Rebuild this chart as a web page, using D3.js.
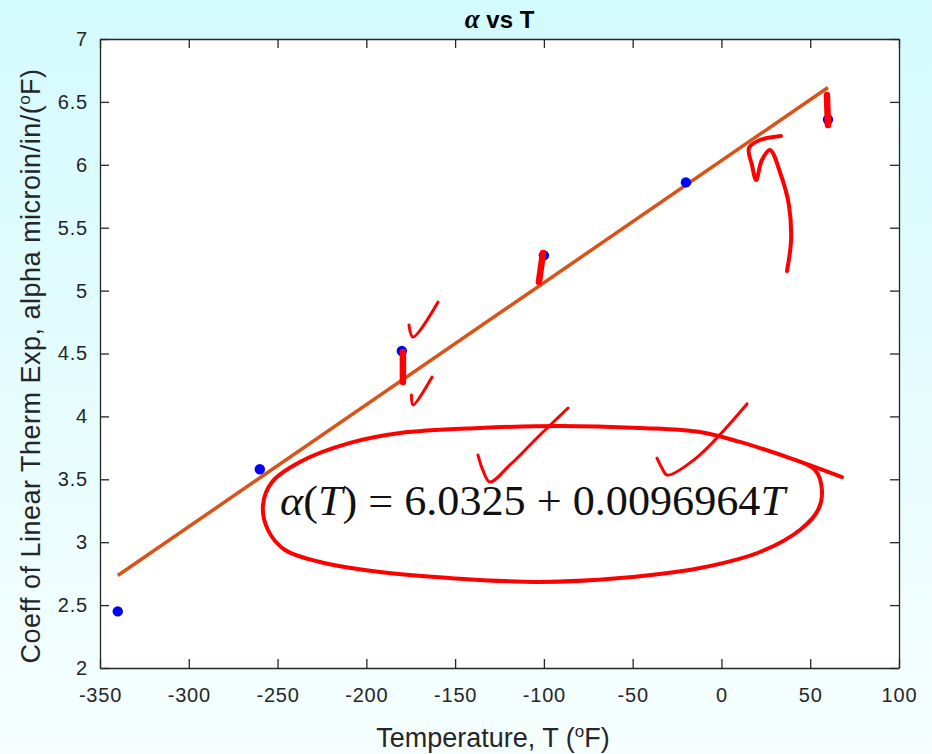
<!DOCTYPE html>
<html>
<head>
<meta charset="utf-8">
<script src="https://cdn.jsdelivr.net/npm/d3@7"></script>
<style>
  html, body { margin: 0; padding: 0; }
  svg { display: block; }
</style>
</head>
<body>
<div id="content"></div>
<script>
// measured points
const temps = [-340, -260, -180, -100, -20, 60];
const alphas = [2.45, 3.58, 4.52, 5.28, 5.86, 6.36];

// linear fit
const fitIntercept = 6.0325;
const fitSlope = 0.0096964;
const fitRange = [-340, 60];

const xTicks = [-350, -300, -250, -200, -150, -100, -50, 0, 50, 100];
const yTicks = [2, 2.5, 3, 3.5, 4, 4.5, 5, 5.5, 6, 6.5, 7];

// hand drawn ink, in data units [T, alpha]
const inkLoop = [[40.3, 3.661], [52.7, 3.574], [56.6, 3.415], [54.4, 3.256], [44.2, 3.097],
  [21.7, 2.922], [-12.1, 2.795], [-57.1, 2.715], [-102.2, 2.684], [-152.9, 2.715],
  [-192.3, 2.763], [-226.1, 2.843], [-245.8, 2.938], [-255.4, 3.097], [-258.2, 3.296],
  [-253.1, 3.479], [-237.4, 3.638], [-209.2, 3.789], [-181.0, 3.868], [-136.0, 3.908],
  [-90.9, 3.924], [-45.9, 3.908], [-12.1, 3.876], [10.4, 3.797], [38.6, 3.669], [67.9, 3.518]];
const inkArrow = [[36.9, 5.156], [39.2, 5.402], [38.0, 5.680], [33.5, 5.919], [27.3, 6.118],
  [22.8, 6.038], [19.5, 5.879], [17.2, 5.998], [15.5, 6.134], [21.7, 6.197], [33.5, 6.229]];
const inkChecks = [
  [[-176.0, 4.727], [-173.7, 4.631], [-159.6, 4.909]],
  [[-174.6, 4.170], [-173.7, 4.091], [-163.0, 4.313]],
  [[-137.1, 3.693], [-134.3, 3.570], [-130.4, 3.479], [-119.1, 3.614], [-102.2, 3.852], [-86.4, 4.067]],
  [[-36.3, 3.669], [-33.5, 3.590], [-30.7, 3.534], [-15.0, 3.660], [14.4, 4.099]]
];
const inkMarks = [
  [[-179.4, 4.512], [-179.4, 4.273]],
  [[-100.5, 5.299], [-102.8, 5.068]],
  [[59.4, 6.555], [60.0, 6.316]]
];

const W = 932, H = 754;
const margin = { top: 39, right: 33, bottom: 86, left: 100 };

const svg = d3.select("#content").append("svg")
  .attr("width", W).attr("height", H);

const grad = svg.append("defs").append("linearGradient")
  .attr("id", "bg").attr("x1", 0).attr("y1", 0).attr("x2", 0).attr("y2", 1);
grad.append("stop").attr("offset", "0%").attr("stop-color", "#d3fafd");
grad.append("stop").attr("offset", "100%").attr("stop-color", "#f6fefe");
svg.append("rect").attr("width", W).attr("height", H).attr("fill", "url(#bg)");

let x = d3.scaleLinear().domain([-350, 100]).range([margin.left, W - margin.right]);
let y = d3.scaleLinear().domain([2, 7]).range([H - margin.bottom, margin.top]);

svg.append("rect")
  .attr("x", x(-350)).attr("y", y(7))
  .attr("width", x(100) - x(-350)).attr("height", y(2) - y(7))
  .attr("fill", "#fff");

const axisColor = "#262626";
const tickFont = "20px 'Liberation Sans', Arial, sans-serif";

function styleAxis(g, showText) {
  g.select(".domain").attr("stroke", axisColor).attr("stroke-width", 1.3);
  g.selectAll(".tick line").attr("stroke", axisColor).attr("stroke-width", 1.3);
  g.selectAll(".tick text").attr("fill", axisColor).style("font", tickFont)
    .style("letter-spacing", "0.8px");
  if (!showText) g.selectAll(".tick text").remove();
}

svg.append("g")
  .attr("transform", "translate(0," + y(2) + ")")
  .call(d3.axisBottom(x).tickValues(xTicks).tickSizeInner(-9).tickSizeOuter(0).tickPadding(20).tickFormat(d => String(d)))
  .call(g => styleAxis(g, true));
svg.append("g")
  .attr("transform", "translate(0," + y(7) + ")")
  .call(d3.axisTop(x).tickValues(xTicks).tickSizeInner(-9).tickSizeOuter(0))
  .call(g => styleAxis(g, false));
svg.append("g")
  .attr("transform", "translate(" + x(-350) + ",0)")
  .call(d3.axisLeft(y).tickValues(yTicks).tickSizeInner(-9).tickSizeOuter(0).tickPadding(12).tickFormat(d => String(d)))
  .call(g => styleAxis(g, true));
svg.append("g")
  .attr("transform", "translate(" + x(100) + ",0)")
  .call(d3.axisRight(y).tickValues(yTicks).tickSizeInner(-9).tickSizeOuter(0))
  .call(g => styleAxis(g, false));

// fit line
let line = d3.line().x(d => x(d[0])).y(d => y(d[1]));
svg.append("path")
  .datum(fitRange.map(t => [t, fitIntercept + fitSlope * t]))
  .attr("d", line)
  .attr("fill", "none")
  .attr("stroke", "#d95319")
  .attr("stroke-width", 3.5);

// data points
svg.append("g").selectAll("circle")
  .data(temps.map((t, i) => [t, alphas[i]]))
  .join("circle")
  .attr("cx", d => x(d[0])).attr("cy", d => y(d[1]))
  .attr("r", 5.2)
  .attr("fill", "#0000ff");

// equation
let eq = svg.append("text")
  .attr("x", 280).attr("y", 515)
  .style("font-family", "'Liberation Serif', 'DejaVu Serif', serif")
  .style("font-size", "42px")
  .attr("fill", "#111")
  .attr("textLength", 505).attr("lengthAdjust", "spacingAndGlyphs");
eq.append("tspan").style("font-style", "italic").text("α");
eq.append("tspan").text("(");
eq.append("tspan").style("font-style", "italic").text("T");
eq.append("tspan").text(")  =  6.0325  +  0.0096964");
eq.append("tspan").style("font-style", "italic").text("T");

// red ink
let ink = d3.line().x(d => x(d[0])).y(d => y(d[1])).curve(d3.curveCatmullRom.alpha(0.5));
let inkG = svg.append("g")
  .attr("fill", "none").attr("stroke", "#ff0000")
  .attr("stroke-linecap", "round").attr("stroke-linejoin", "round");
inkG.append("path").datum(inkLoop).attr("d", ink).attr("stroke-width", 4);
inkG.append("path").datum(inkArrow).attr("d", ink).attr("stroke-width", 4);
inkG.selectAll(".chk").data(inkChecks).join("path")
  .attr("class", "chk").attr("d", ink).attr("stroke-width", 3);
inkG.selectAll(".mk").data(inkMarks).join("path")
  .attr("class", "mk").attr("d", line).attr("stroke-width", 6.5);

// title and labels
let title = svg.append("text")
  .attr("x", (x(-350) + x(100)) / 2).attr("y", 28)
  .attr("text-anchor", "middle")
  .style("font", "bold 24px 'Liberation Sans', Arial, sans-serif")
  .attr("fill", "#000");
title.append("tspan").style("font-family", "'Liberation Serif', serif").style("font-style", "italic").style("font-size", "27px").text("α");
title.append("tspan").text(" vs T");

let xl = svg.append("text")
  .attr("x", 493).attr("y", 747)
  .attr("text-anchor", "middle")
  .style("font", "27px 'Liberation Sans', Arial, sans-serif")
  .attr("fill", axisColor);
xl.append("tspan").text("Temperature, T (");
xl.append("tspan").attr("dy", -10).style("font-size", "17px").text("o");
xl.append("tspan").attr("dy", 10).text("F)");

let yl = svg.append("text")
  .attr("transform", "translate(40,366) rotate(-90)")
  .attr("text-anchor", "middle")
  .style("font", "27px 'Liberation Sans', Arial, sans-serif")
  .style("letter-spacing", "0.5px")
  .attr("fill", axisColor);
yl.append("tspan").text("Coeff of Linear Therm Exp, alpha microin/in/(");
yl.append("tspan").attr("dy", -10).style("font-size", "17px").text("o");
yl.append("tspan").attr("dy", 10).text("F)");
</script>
</body>
</html>
